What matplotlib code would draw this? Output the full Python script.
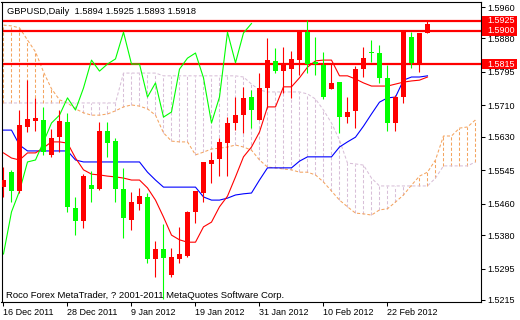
import numpy as np
import matplotlib
matplotlib.use("Agg")
import matplotlib.pyplot as plt
import matplotlib.transforms as mtransforms
from matplotlib.patches import Rectangle

plt.rcParams['font.family'] = ['Liberation Sans', 'DejaVu Sans']

# daily bars, 16 Dec 2011 .. 28 Feb 2012
opens = [1.5502, 1.5540, 1.5492, 1.5655, 1.5670, 1.5673, 1.5584, 1.5629, 1.5668, 1.5449,
         1.5416, 1.5507, 1.5497, 1.5645, 1.5619, 1.5497, 1.5418, 1.5459, 1.5477, 1.5319,
         1.5345, 1.5279, 1.5319, 1.5327, 1.5439, 1.5487, 1.5561, 1.5574, 1.5614, 1.5665,
         1.5685, 1.5731, 1.5673, 1.5754, 1.5823, 1.5797, 1.5802, 1.5825, 1.5896, 1.5820,
         1.5812, 1.5752, 1.5769, 1.5680, 1.5696, 1.5802, 1.5846, 1.5843, 1.5780, 1.5665,
         1.5731, 1.5884, 1.5818, 1.5894]
highs = [1.5553, 1.5546, 1.5698, 1.5774, 1.5729, 1.5706, 1.5650, 1.5698, 1.5691, 1.5477,
         1.5535, 1.5543, 1.5668, 1.5668, 1.5627, 1.5551, 1.5490, 1.5500, 1.5487, 1.5365,
         1.5408, 1.5347, 1.5401, 1.5441, 1.5492, 1.5566, 1.5591, 1.5627, 1.5680, 1.5731,
         1.5757, 1.5749, 1.5792, 1.5881, 1.5856, 1.5858, 1.5848, 1.5896, 1.5927, 1.5884,
         1.5846, 1.5818, 1.5769, 1.5731, 1.5810, 1.5858, 1.5876, 1.5863, 1.5812, 1.5736,
         1.5896, 1.5896, 1.5894, 1.5925]
lows = [1.5477, 1.5464, 1.5487, 1.5642, 1.5645, 1.5584, 1.5579, 1.5591, 1.5439, 1.5380,
        1.5398, 1.5464, 1.5495, 1.5579, 1.5464, 1.5373, 1.5393, 1.5444, 1.5309, 1.5274,
        1.5218, 1.5274, 1.5309, 1.5324, 1.5411, 1.5464, 1.5512, 1.5530, 1.5530, 1.5647,
        1.5640, 1.5652, 1.5673, 1.5703, 1.5792, 1.5741, 1.5729, 1.5787, 1.5792, 1.5787,
        1.5726, 1.5752, 1.5640, 1.5665, 1.5652, 1.5782, 1.5820, 1.5767, 1.5645, 1.5645,
        1.5716, 1.5805, 1.5795, 1.5893]
closes = [1.5520, 1.5492, 1.5660, 1.5675, 1.5678, 1.5591, 1.5627, 1.5670, 1.5452, 1.5416,
          1.5530, 1.5497, 1.5645, 1.5614, 1.5497, 1.5424, 1.5464, 1.5479, 1.5319, 1.5345,
          1.5322, 1.5324, 1.5332, 1.5439, 1.5492, 1.5566, 1.5571, 1.5617, 1.5665, 1.5685,
          1.5729, 1.5698, 1.5754, 1.5825, 1.5797, 1.5815, 1.5828, 1.5896, 1.5815, 1.5815,
          1.5731, 1.5767, 1.5680, 1.5693, 1.5802, 1.5830, 1.5843, 1.5780, 1.5665, 1.5731,
          1.5896, 1.5818, 1.5894, 1.5918]

# ichimoku lines
tenkan = [1.5589, 1.5576, 1.5571, 1.5589, 1.5589, 1.5602, 1.5617, 1.5617, 1.5614, 1.5576,
          1.5546, 1.5535, 1.5533, 1.5530, 1.5528, 1.5525, 1.5520, 1.5520, 1.5500, 1.5469,
          1.5426, 1.5380, 1.5368, 1.5362, 1.5362, 1.5401, 1.5413, 1.5452, 1.5479, 1.5528,
          1.5579, 1.5604, 1.5642, 1.5706, 1.5706, 1.5757, 1.5757, 1.5780, 1.5807, 1.5823,
          1.5825, 1.5825, 1.5785, 1.5785, 1.5777, 1.5767, 1.5759, 1.5759, 1.5759, 1.5764,
          1.5769, 1.5772, 1.5774, 1.5782]
kijun = [1.5647, 1.5647, 1.5609, 1.5594, 1.5594, 1.5594, 1.5594, 1.5594, 1.5594, 1.5571,
         1.5566, 1.5566, 1.5566, 1.5566, 1.5566, 1.5566, 1.5566, 1.5566, 1.5540, 1.5520,
         1.5502, 1.5502, 1.5502, 1.5502, 1.5502, 1.5477, 1.5469, 1.5469, 1.5474, 1.5482,
         1.5485, 1.5487, 1.5520, 1.5551, 1.5551, 1.5551, 1.5551, 1.5568, 1.5579, 1.5579,
         1.5579, 1.5579, 1.5604, 1.5617, 1.5629, 1.5657, 1.5688, 1.5718, 1.5729, 1.5731,
         1.5774, 1.5782, 1.5782, 1.5785]
span_a = [1.5914, 1.5912, 1.5907, 1.5876, 1.5846, 1.5795, 1.5752, 1.5724, 1.5716, 1.5701,
          1.5691, 1.5685, 1.5685, 1.5688, 1.5696, 1.5706, 1.5711, 1.5708, 1.5701, 1.5685,
          1.5640, 1.5619, 1.5617, 1.5617, 1.5584, 1.5591, 1.5599, 1.5601, 1.5604, 1.5609,
          1.5604, 1.5596, 1.5571, 1.5553, 1.5551, 1.5548, 1.5546, 1.5540, 1.5540, 1.5533,
          1.5515, 1.5492, 1.5469, 1.5452, 1.5436, 1.5434, 1.5431, 1.5444, 1.5447, 1.5464,
          1.5482, 1.5507, 1.5530, 1.5540, 1.5571, 1.5632, 1.5632, 1.5652, 1.5655, 1.5673]
span_b = [1.5716, 1.5716, 1.5716, 1.5716, 1.5716, 1.5716, 1.5716, 1.5716, 1.5716, 1.5716,
          1.5716, 1.5716, 1.5716, 1.5716, 1.5716, 1.5792, 1.5792, 1.5792, 1.5792, 1.5792,
          1.5785, 1.5785, 1.5785, 1.5785, 1.5785, 1.5785, 1.5785, 1.5785, 1.5785, 1.5785,
          1.5782, 1.5764, 1.5749, 1.5744, 1.5744, 1.5744, 1.5744, 1.5744, 1.5739, 1.5726,
          1.5698, 1.5665, 1.5622, 1.5563, 1.5561, 1.5558, 1.5525, 1.5505, 1.5505, 1.5505,
          1.5505, 1.5505, 1.5505, 1.5505, 1.5525, 1.5556, 1.5556, 1.5556, 1.5556, 1.5566]
chikou_shift = 22

levels = [1.5925, 1.5900, 1.5815]
date_ticks = [0, 8, 16, 24, 32, 40, 48]
date_labels = ["16 Dec 2011", "28 Dec 2011", "9 Jan 2012", "19 Jan 2012",
               "31 Jan 2012", "10 Feb 2012", "22 Feb 2012"]
price_ticks = [1.5960, 1.5880, 1.5795, 1.5710, 1.5630, 1.5545, 1.5460, 1.5380, 1.5295, 1.5215]

SANDY = '#F4A460'
THISTLE = '#D8BFD8'
UP = '#FF0000'
DOWN = '#00FF00'

fig = plt.figure(figsize=(5.2, 3.2), dpi=100)
ax = fig.add_axes([1.5 / 520, 18 / 320, 479.5 / 520, 300.5 / 320])

o = np.array(opens)
h = np.array(highs)
l = np.array(lows)
c = np.array(closes)
x = np.arange(len(c))

# cloud
a = np.array(span_a)
b = np.array(span_b)
xa = np.arange(len(a))
cloud_cols = [SANDY if ai >= bi else THISTLE for ai, bi in zip(a, b)]
ax.vlines(xa, np.minimum(a, b), np.maximum(a, b), colors=cloud_cols,
          linestyles=(0, (3, 2)), lw=0.75, zorder=1)
ax.plot(xa, a, color=SANDY, lw=0.75, ls=(0, (3, 2)), zorder=1)
ax.plot(xa, b, color=THISTLE, lw=0.75, ls=(0, (3, 2)), zorder=1)

for lv in levels:
    ax.axhline(lv, color='red', lw=1.6, zorder=1.5)

ax.plot(x, kijun, color='#0000FF', lw=0.8, zorder=2)
ax.plot(x, tenkan, color='red', lw=0.8, zorder=2)
ax.plot(x[chikou_shift:] - chikou_shift, c[chikou_shift:], color=DOWN, lw=0.8, zorder=2)

# candles
cols = np.where(c >= o, UP, DOWN)
ax.vlines(x, l, h, colors=cols, lw=0.8, zorder=3)
ax.bar(x, np.maximum(np.abs(c - o), 0.0003), bottom=np.minimum(o, c), width=0.625,
       color=cols, lw=0, zorder=3)

ax.set_xlim(-0.25, 59.69)
ax.set_ylim(1.52099, 1.59740)

ax.yaxis.tick_right()
ax.set_yticks(price_ticks)
ax.set_yticklabels(["%.4f" % v for v in price_ticks])
ax.tick_params(axis='y', direction='out', length=3, width=0.75, pad=1.5, labelsize=6.5)
ax.set_xticks(date_ticks)
ax.set_xticklabels(date_labels, ha='left')
ax.tick_params(axis='x', direction='out', length=3, width=0.75, pad=1, labelsize=6.5)
for sp in ax.spines.values():
    sp.set_linewidth(0.8)
    sp.set_color('black')

# price labels on the right axis
trans = mtransforms.blended_transform_factory(ax.transAxes, ax.transData)
for lv in levels:
    ax.add_patch(Rectangle((1.002, lv - 0.00125), 0.074, 0.0025, transform=trans,
                           facecolor='red', edgecolor='none', clip_on=False, zorder=5))
    ax.text(1.0125, lv, "%.4f" % lv, transform=trans, color='white', fontsize=6.5,
            va='center', ha='left', zorder=6, clip_on=False)

title = "GBPUSD,Daily  %.4f %.4f %.4f %.4f" % (opens[-1], highs[-1], lows[-1], closes[-1])
fig.text(7 / 520, 1 - 11 / 320, title, fontsize=6.7, va='center', ha='left')
fig.text(6 / 520, 1 - 295 / 320, "Roco Forex MetaTrader, ? 2001-2011 MetaQuotes Software Corp.",
         fontsize=6.8, va='center', ha='left')

fig.savefig('out.png', dpi=100)
